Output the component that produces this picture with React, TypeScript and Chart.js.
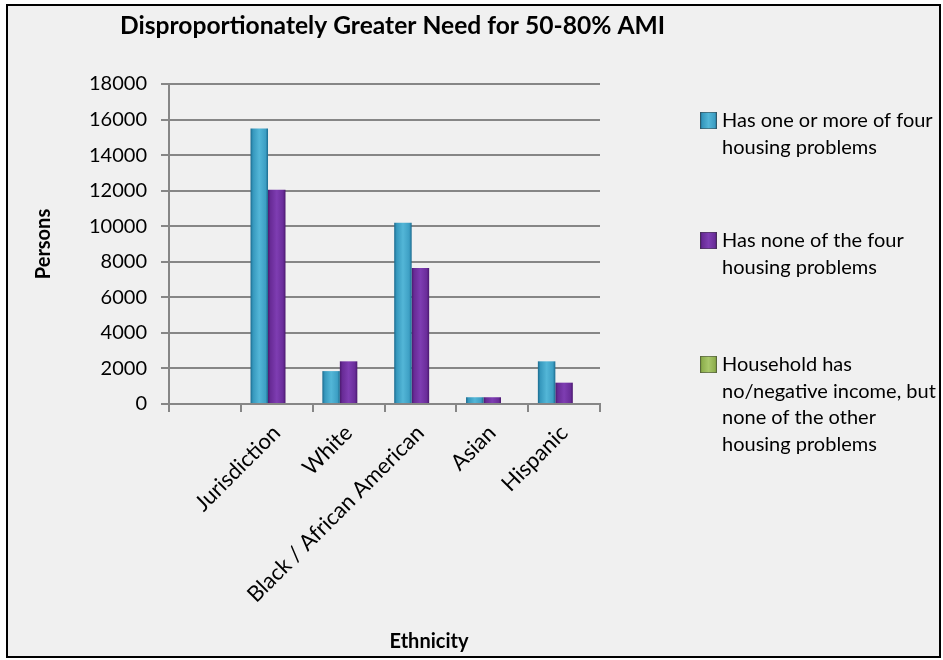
import React, { useEffect, useRef } from 'react';
import { Chart, registerables } from 'chart.js';

Chart.register(...registerables);

const CHART_TITLE = 'Disproportionately Greater Need for 50-80% AMI';
const X_TITLE = 'Ethnicity';
const Y_TITLE = 'Persons';
const CATEGORIES = ['', 'Jurisdiction', 'White', 'Black / African American', 'Asian', 'Hispanic'];
const HAS_PROBLEMS = [null, 15500, 1850, 10200, 380, 2400];
const NO_PROBLEMS = [null, 12050, 2400, 7650, 380, 1200];
const NO_INCOME = [null, 0, 0, 0, 0, 0];
const SERIES_LABELS = [
  ['Has one or more of four', 'housing problems'],
  ['Has none of the four', 'housing problems'],
  ['Household has', 'no/negative income, but', 'none of the other', 'housing problems'],
];
const Y_MIN = 0;
const Y_MAX = 18000;
const Y_STEP = 2000;

const FONT = 'Lato, "Open Sans", sans-serif';
const GRID = '#868686';
const CAT_PCT = 0.73;

const STOPS: Array<Array<[number, string]>> = [
  [[0, '#1b6a8e'], [0.14, '#3698bd'], [0.5, '#53b6d7'], [0.86, '#3d9fc4'], [1, '#1b6a8e']],
  [[0, '#4a186e'], [0.14, '#682b96'], [0.5, '#7e3db2'], [0.86, '#6a2d9a'], [1, '#4a186e']],
  [[0, '#6f8d35'], [0.14, '#8fb04f'], [0.5, '#a9c86a'], [0.86, '#90b050'], [1, '#6f8d35']],
];

function gradient(ctx: CanvasRenderingContext2D, left: number, width: number, idx: number) {
  const g = ctx.createLinearGradient(left, 0, left + width, 0);
  for (const [o, c] of STOPS[idx]) g.addColorStop(o, c);
  return g;
}

function barFill(seriesIdx: number) {
  return (c: any) => {
    const chart = c.chart;
    const xs = chart.scales && chart.scales.x;
    if (!xs || c.type !== 'data' || !chart.chartArea) return STOPS[seriesIdx][2][1];
    const n = CATEGORIES.length;
    const catW = xs.width / n;
    const bw = (catW * CAT_PCT) / SERIES_LABELS.length;
    const center = xs.getPixelForValue(c.dataIndex);
    const left = center - (catW * CAT_PCT) / 2 + seriesIdx * bw;
    return gradient(chart.ctx, left, bw, seriesIdx);
  };
}

const decorPlugin = {
  id: 'decor',
  beforeDraw(chart: any) {
    const ctx = chart.ctx as CanvasRenderingContext2D;
    ctx.save();
    ctx.fillStyle = '#ffffff';
    ctx.fillRect(0, 0, chart.width, chart.height);
    ctx.fillStyle = '#f0f0f0';
    ctx.fillRect(7, 5, 933, 652);
    ctx.strokeStyle = '#000000';
    ctx.lineWidth = 2;
    ctx.strokeRect(7, 5, 933, 652);
    ctx.restore();
  },
  afterDraw(chart: any) {
    const ctx = chart.ctx as CanvasRenderingContext2D;
    ctx.save();
    // chart title
    ctx.fillStyle = '#000000';
    ctx.font = `bold 25px ${FONT}`;
    ctx.textAlign = 'left';
    ctx.textBaseline = 'alphabetic';
    ctx.fillText(CHART_TITLE, 120, 34, 545);
    // x axis title
    ctx.font = `bold 20px ${FONT}`;
    ctx.textAlign = 'center';
    ctx.fillText(X_TITLE, 429, 648);
    // legend
    const baselines = [127, 247, 371];
    const lh = 26.5;
    ctx.font = `20px ${FONT}`;
    ctx.textAlign = 'left';
    SERIES_LABELS.forEach((lines, i) => {
      const b = baselines[i];
      const top = b - 15;
      ctx.fillStyle = gradient(ctx, 700, 17, i);
      ctx.fillRect(700, top, 17, 17);
      ctx.strokeStyle = 'rgba(60,60,60,0.5)';
      ctx.lineWidth = 1;
      ctx.strokeRect(700.5, top + 0.5, 16, 16);
      ctx.fillStyle = '#000000';
      lines.forEach((t, j) => ctx.fillText(t, 722, b + j * lh));
    });
    ctx.restore();
  },
};

export default function App() {
  const ref = useRef<HTMLCanvasElement | null>(null);
  useEffect(() => {
    if (!ref.current) return;
    const chart = new Chart(ref.current, {
      type: 'bar',
      data: {
        labels: CATEGORIES,
        datasets: [
          { label: SERIES_LABELS[0].join(' '), data: HAS_PROBLEMS as any, backgroundColor: barFill(0) as any, borderWidth: 0 },
          { label: SERIES_LABELS[1].join(' '), data: NO_PROBLEMS as any, backgroundColor: barFill(1) as any, borderWidth: 0 },
          { label: SERIES_LABELS[2].join(' '), data: NO_INCOME as any, backgroundColor: barFill(2) as any, borderWidth: 0 },
        ],
      },
      options: {
        responsive: false,
        animation: false,
        devicePixelRatio: 1,
        categoryPercentage: CAT_PCT,
        barPercentage: 1,
        layout: { padding: { left: 0, top: 84, right: 343, bottom: 0 } },
        plugins: {
          legend: { display: false },
          title: { display: false },
          tooltip: { enabled: false },
        },
        scales: {
          x: {
            grid: { display: true, drawOnChartArea: false, drawTicks: true, tickLength: 8, color: GRID, lineWidth: 2, offset: true },
            border: { color: GRID, width: 2 },
            ticks: { color: '#000', font: { family: FONT, size: 22 }, maxRotation: 45, minRotation: 45, padding: 8, autoSkip: false },
            afterFit: (s: any) => { s.height = 256; },
          },
          y: {
            min: Y_MIN,
            max: Y_MAX,
            grid: { color: GRID, lineWidth: 2, tickLength: 8 },
            border: { color: GRID, width: 2 },
            ticks: { stepSize: Y_STEP, color: '#000', font: { family: FONT, size: 20 }, padding: 14, format: { useGrouping: false } as any },
            title: { display: true, text: Y_TITLE, color: '#000', font: { family: FONT, size: 20, weight: 'bold' }, padding: { top: 32, bottom: 0 } },
            afterFit: (s: any) => { s.width = 169; },
          },
        },
      },
      plugins: [decorPlugin],
    });
    return () => chart.destroy();
  }, []);
  return (
    <div style={{ position: 'fixed', left: 0, top: 0, width: 943, height: 660, background: '#fff' }}>
      <canvas ref={ref} width={943} height={660} style={{ display: 'block', width: 943, height: 660 }} />
    </div>
  );
}
